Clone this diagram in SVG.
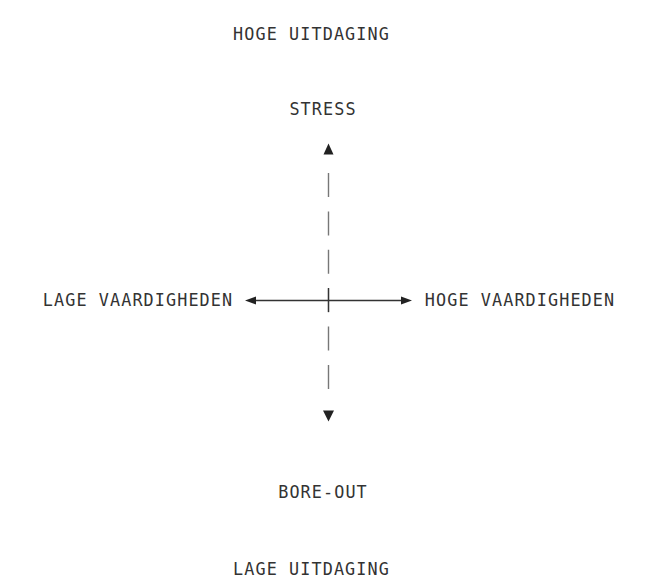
<svg xmlns="http://www.w3.org/2000/svg" width="659" height="587" viewBox="0 0 659 587">
<style>
.lbl{font-family:"DejaVu Sans Mono","Liberation Mono",monospace;font-size:16.8px;letter-spacing:1.1px;fill:#333;text-anchor:middle}
.ax{stroke:#333;stroke-width:1.3;fill:none}
.vax{stroke:#777;stroke-width:1.4;fill:none;stroke-dasharray:24 14.4}
.head{fill:#222}
</style>
<rect width="659" height="587" fill="#fff"/>
<g id="node-hoge-uitdaging"><text class="lbl" x="311.5" y="39.5">HOGE UITDAGING</text></g>
<g id="node-stress"><text class="lbl" x="323" y="114.5">STRESS</text></g>
<g id="node-lage-vaardigheden"><text class="lbl" x="138" y="306">LAGE VAARDIGHEDEN</text></g>
<g id="node-hoge-vaardigheden"><text class="lbl" x="520" y="306">HOGE VAARDIGHEDEN</text></g>
<g id="node-bore-out"><text class="lbl" x="323" y="497.5">BORE-OUT</text></g>
<g id="node-lage-uitdaging"><text class="lbl" x="311.5" y="574.5">LAGE UITDAGING</text></g>
<g id="connectors">
<path class="vax" d="M328.5 173V389"/>
<path class="ax" d="M253 300.5H404"/>
<path class="ax" d="M328.5 288V312"/>
<polygon class="head" points="245,300.5 256,296.5 256,304.5"/>
<polygon class="head" points="412,300.5 401,296.5 401,304.5"/>
<polygon class="head" points="328.5,143.5 323.5,154.5 333.5,154.5"/>
<polygon class="head" points="328.5,421.5 323,410.5 334,410.5"/>
</g>
</svg>
